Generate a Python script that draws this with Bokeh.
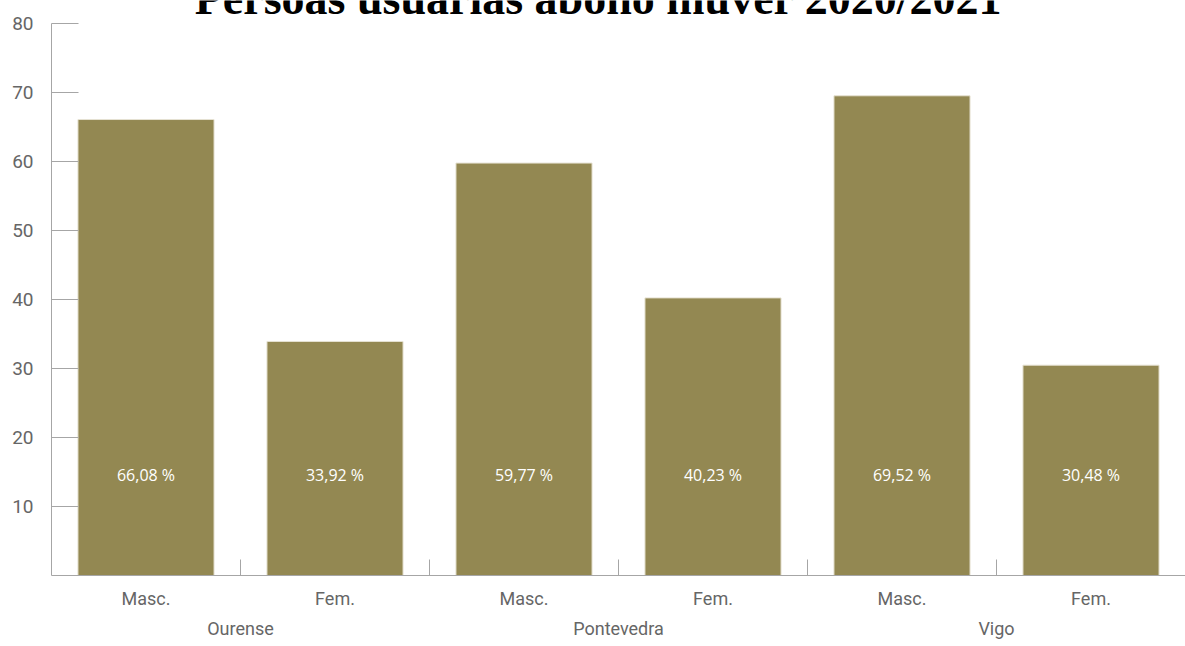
import math
from bokeh.plotting import figure
from bokeh.models import FactorRange, ColumnDataSource, FixedTicker, Label
from bokeh.core.properties import value
from bokeh.embed import file_html
from bokeh.resources import INLINE

title_text = "Persoas usuarias abono muver 2020/2021"
cities = ["Ourense", "Pontevedra", "Vigo"]
sexes = ["Masc.", "Fem."]
percent_values = [66.08, 33.92, 59.77, 40.23, 69.52, 30.48]
percent_labels = ["66,08 %", "33,92 %", "59,77 %", "40,23 %", "69,52 %", "30,48 %"]
y_ticks = [10, 20, 30, 40, 50, 60, 70, 80]

factors = [(c, s) for c in cities for s in sexes]
bar_color = "#938852"
axis_color = "#a6a6a6"
text_color = "#666666"
label_font = "Roboto"

W, H = 1185, 646
y_max = 80
y_top = 83.33  # a little headroom above the axis for the title
p = figure(x_range=FactorRange(*factors, range_padding=0, group_padding=0, factor_padding=0),
           y_range=(0, y_top), width=W, height=H, output_backend="svg",
           toolbar_location=None, min_border_left=51, min_border_right=0,
           min_border_top=0, min_border_bottom=71)
p.outline_line_color = None
p.xgrid.grid_line_color = None
p.ygrid.grid_line_color = None
p.background_fill_color = "white"

src = ColumnDataSource(dict(x=factors, top=percent_values, label=percent_labels))
p.vbar(x="x", top="top", width=0.72, source=src, fill_color=bar_color,
       line_color="#e6e2d3", line_width=1)

p.text(x="x", y=14.6, text="label", source=src, text_color="white",
       text_font=value("Open Sans"), text_font_size="16px",
       text_align="center", text_baseline="middle")

# boundary ticks between categories
bounds = [(c, s, 0.5) for (c, s) in factors[:-1]]
p.scatter(x=bounds, y=[0] * len(bounds), marker="dash", angle=math.pi / 2,
          size=32, line_color=axis_color, line_width=1)

# y axis
p.yaxis.ticker = FixedTicker(ticks=y_ticks)
p.yaxis.bounds = (0, y_max)
p.yaxis.axis_line_color = axis_color
p.yaxis.major_tick_line_color = axis_color
p.yaxis.major_tick_in = 27
p.yaxis.major_tick_out = 0
p.yaxis.minor_tick_line_color = None
p.yaxis.major_label_text_font = label_font
p.yaxis.major_label_text_font_size = "19px"
p.yaxis.major_label_text_color = text_color
p.yaxis.major_label_standoff = 18

# x axis
xa = p.xaxis[0]
xa.axis_line_color = axis_color
xa.major_tick_line_color = None
xa.major_label_text_font = label_font
xa.major_label_text_font_size = "18px"
xa.major_label_text_color = text_color
xa.major_label_standoff = 6
xa.group_text_font = label_font
xa.group_text_font_size = "18px"
xa.group_text_color = text_color
xa.group_text_font_style = "normal"
xa.separator_line_color = None

p.add_layout(Label(x=547, y=y_max + 3.6, x_units="screen", y_units="data", text=title_text,
                   text_font="Liberation Serif", text_font_style="bold",
                   text_font_size="46px", text_color="black",
                   text_align="center", text_baseline="alphabetic"))

open("out.html", "w").write(file_html(p, INLINE))
